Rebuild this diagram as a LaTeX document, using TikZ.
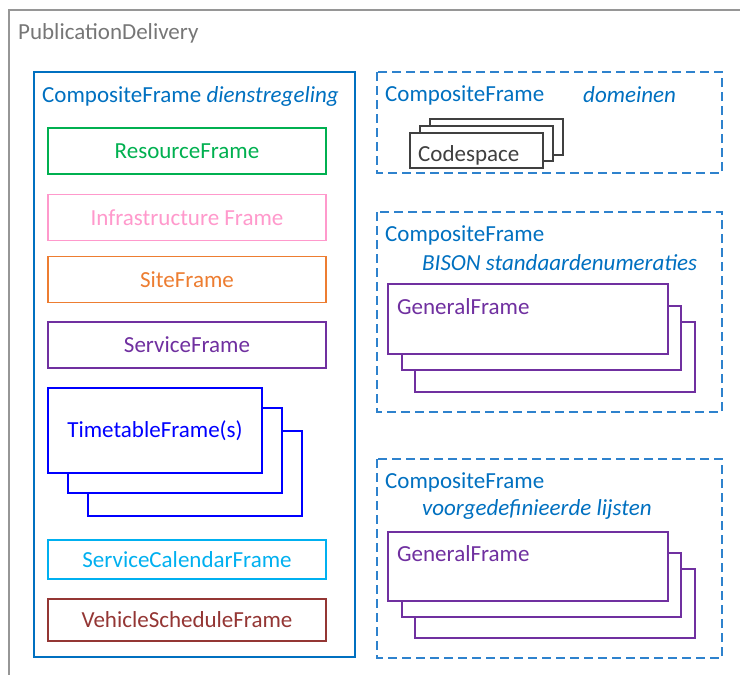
\documentclass[tikz,border=0pt]{standalone}
\usepackage{fontspec}
\setmainfont{Carlito}
\usepackage{tikz}
\usetikzlibrary{positioning}
\definecolor{pdgray}{RGB}{150,150,150}
\definecolor{pdtext}{RGB}{118,118,118}
\definecolor{cfblue}{RGB}{0,112,192}
\definecolor{dashblue}{RGB}{46,130,205}
\definecolor{rescolor}{RGB}{0,176,80}
\definecolor{infracolor}{RGB}{255,153,204}
\definecolor{sitecolor}{RGB}{237,125,49}
\definecolor{svccolor}{RGB}{112,48,160}
\definecolor{ttcolor}{RGB}{0,0,255}
\definecolor{calcolor}{RGB}{0,176,240}
\definecolor{vehcolor}{RGB}{148,54,52}
\definecolor{cscolor}{RGB}{64,64,64}
\definecolor{gfcolor}{RGB}{112,48,160}

\begin{document}
\begin{tikzpicture}[
    x=1pt, y=-1pt,
    title/.style={anchor=west, inner sep=0pt, font=\fontsize{23}{27}\selectfont},
    composite/.style={draw=cfblue, line width=1.2pt},
    dashbox/.style={draw=dashblue, line width=1.2pt, dash pattern=on 9pt off 5pt},
    frame/.style={draw, line width=1.2pt, fill=white, minimum width=278pt, minimum height=46pt, inner sep=0pt, font=\fontsize{23}{27}\selectfont},
    stack/.style={draw, line width=1.2pt, fill=white, inner sep=0pt, font=\fontsize{23}{27}\selectfont}
]
    \clip (0,0) rectangle (740,675);

    % PublicationDelivery
    \draw[pdgray, line width=1.2pt] (9,10) rectangle (760,700);
    \node[title, text=pdtext] (pd) at (18,33) {PublicationDelivery};

    % CompositeFrame dienstregeling
    \draw[composite] (34,72) rectangle (355,657);
    \node[title, text=cfblue] (dienst) at (42,96) {CompositeFrame \textit{dienstregeling}};

    \node[frame, draw=rescolor, text=rescolor] (resource) at (187,151) {ResourceFrame};
    \node[frame, draw=infracolor, text=infracolor] (infra) at (187,217.5) {Infrastructure Frame};
    \node[frame, draw=sitecolor, text=sitecolor] (site) at (187,279.5) {SiteFrame};
    \node[frame, draw=svccolor, text=svccolor] (service) at (187,345) {ServiceFrame};

    % TimetableFrame(s)
    \node[stack, draw=ttcolor, minimum width=214pt, minimum height=85pt] (tt3) at (195,473.5) {};
    \node[stack, draw=ttcolor, minimum width=214pt, minimum height=85pt] (tt2) at (175,450.5) {};
    \node[stack, draw=ttcolor, text=ttcolor, minimum width=214pt, minimum height=85pt] (tt1) at (155,430.5) {TimetableFrame(s)};

    \node[frame, draw=calcolor, text=calcolor, minimum height=39pt] (calendar) at (187,559.5) {ServiceCalendarFrame};
    \node[frame, draw=vehcolor, text=vehcolor, minimum height=42pt] (vehicle) at (187,620) {VehicleScheduleFrame};

    % CompositeFrame domeinen
    \draw[dashbox] (377,72) rectangle (722,173);
    \node[title, text=cfblue] (dom) at (385,95) {CompositeFrame};
    \node[title, text=cfblue] (domname) at (583,95) {\textit{domeinen}};
    \node[stack, draw=cscolor, minimum width=133pt, minimum height=36pt] (cs3) at (496.5,137) {};
    \node[stack, draw=cscolor, minimum width=133pt, minimum height=35pt] (cs2) at (486.5,143.5) {};
    \node[stack, draw=cscolor, minimum width=133pt, minimum height=35pt] (cs1) at (476.5,150.5) {};
    \node[title, text=cscolor] (cstext) at (418,155) {Codespace};

    % CompositeFrame BISON standaardenumeraties
    \draw[dashbox] (377,212) rectangle (722,412);
    \node[title, text=cfblue] (bison) at (385,235) {CompositeFrame};
    \node[title, text=cfblue] (bisonname) at (422,263) {\textit{BISON standaardenumeraties}};
    \node[stack, draw=gfcolor, minimum width=280pt, minimum height=70pt] (gfa3) at (555,357) {};
    \node[stack, draw=gfcolor, minimum width=279pt, minimum height=64pt] (gfa2) at (541.5,338) {};
    \node[stack, draw=gfcolor, minimum width=280pt, minimum height=70pt] (gfa1) at (528,319) {};
    \node[title, text=gfcolor] (gfatext) at (397,307) {GeneralFrame};

    % CompositeFrame voorgedefinieerde lijsten
    \draw[dashbox] (377,459) rectangle (722,658);
    \node[title, text=cfblue] (voor) at (385,482) {CompositeFrame};
    \node[title, text=cfblue] (voorname) at (422,509) {\textit{voorgedefinieerde lijsten}};
    \node[stack, draw=gfcolor, minimum width=280pt, minimum height=69pt] (gfb3) at (555,603.5) {};
    \node[stack, draw=gfcolor, minimum width=279pt, minimum height=64pt] (gfb2) at (541.5,585) {};
    \node[stack, draw=gfcolor, minimum width=280pt, minimum height=69pt] (gfb1) at (528,566.5) {};
    \node[title, text=gfcolor] (gfbtext) at (397,554) {GeneralFrame};
\end{tikzpicture}
\end{document}
